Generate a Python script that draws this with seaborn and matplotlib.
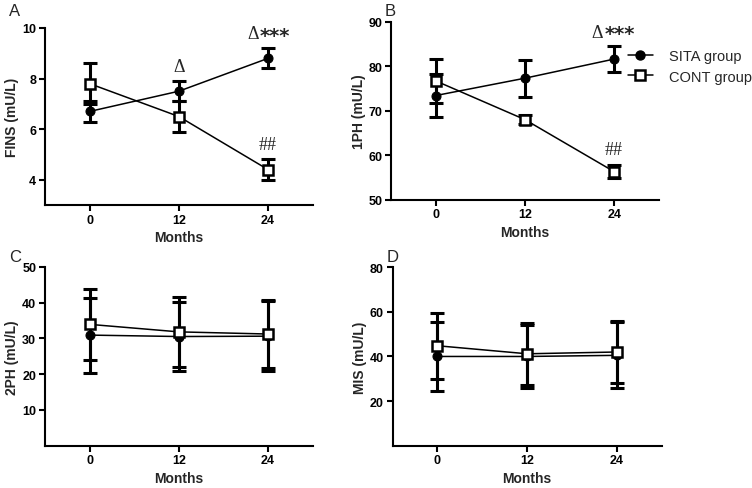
import matplotlib
matplotlib.use("Agg")
import matplotlib.pyplot as plt
import seaborn as sns
import pandas as pd
from matplotlib.lines import Line2D

months = [0, 12, 24]
groups = ["SITA group", "CONT group"]

fins_sita = [6.7, 7.5, 8.8]
fins_sita_err = [0.4, 0.4, 0.4]
fins_cont = [7.8, 6.5, 4.4]
fins_cont_err = [0.8, 0.6, 0.4]

ph1_sita = [73.4, 77.3, 81.6]
ph1_sita_err = [4.8, 4.2, 3.0]
ph1_cont = [76.7, 68.0, 56.3]
ph1_cont_err = [5.0, 1.0, 1.5]

ph2_sita = [30.9, 30.5, 30.6]
ph2_sita_err = [10.5, 9.6, 9.8]
ph2_cont = [33.9, 31.8, 31.2]
ph2_cont_err = [10.0, 9.7, 9.6]

mis_sita = [40.0, 40.0, 40.5]
mis_sita_err = [15.5, 14.0, 14.8]
mis_cont = [44.8, 41.2, 42.0]
mis_cont_err = [14.8, 13.8, 13.8]

sns.set_theme(style="ticks")
plt.rcParams['font.family'] = ['Liberation Sans', 'DejaVu Sans']

fig = plt.figure(figsize=(7.52, 4.89), dpi=100)

# axes boxes taken from the reference layout
ax_a = fig.add_axes([0.0598, 0.5787, 0.356, 0.362])
ax_b = fig.add_axes([0.520, 0.5896, 0.356, 0.364])
ax_c = fig.add_axes([0.0598, 0.0865, 0.356, 0.366])
ax_d = fig.add_axes([0.522, 0.0865, 0.358, 0.365])

panels = [
    (ax_a, "A", "FINS (mU/L)", fins_sita, fins_sita_err, fins_cont, fins_cont_err, (3, 10), [4, 6, 8, 10]),
    (ax_b, "B", "1PH (mU/L)", ph1_sita, ph1_sita_err, ph1_cont, ph1_cont_err, (50, 90), [50, 60, 70, 80, 90]),
    (ax_c, "C", "2PH (mU/L)", ph2_sita, ph2_sita_err, ph2_cont, ph2_cont_err, (0, 50), [10, 20, 30, 40, 50]),
    (ax_d, "D", "MIS (mU/L)", mis_sita, mis_sita_err, mis_cont, mis_cont_err, (0, 80), [20, 40, 60, 80]),
]

for ax, letter, ylab, s, s_err, c, c_err, ylim, yticks in panels:
    df = pd.DataFrame({"month": months * 2, "value": s + c,
                       "group": [groups[0]] * 3 + [groups[1]] * 3})
    ax.errorbar(months, s, yerr=s_err, fmt='none', ecolor='black',
                elinewidth=2.2, capsize=5, capthick=2.2, zorder=2)
    ax.errorbar(months, c, yerr=c_err, fmt='none', ecolor='black',
                elinewidth=2.2, capsize=5, capthick=2.2, zorder=2)
    sns.lineplot(data=df[df.group == groups[0]], x="month", y="value", ax=ax,
                 color='black', linewidth=1.1, marker='o', markersize=6.5,
                 markeredgecolor='black', markerfacecolor='black', zorder=3)
    sns.lineplot(data=df[df.group == groups[1]], x="month", y="value", ax=ax,
                 color='black', linewidth=1.1, marker='s', markersize=7.5,
                 markeredgecolor='black', markerfacecolor='white',
                 markeredgewidth=1.8, zorder=4)
    ax.set_xlim(-6, 30)
    ax.set_ylim(*ylim)
    ax.set_xticks(months)
    ax.set_yticks(yticks)
    ax.set_xticklabels([str(m) for m in months], fontweight='bold', fontsize=9)
    ax.set_yticklabels([str(t) for t in yticks], fontweight='bold', fontsize=9)
    ax.set_xlabel("Months", fontweight='bold', fontsize=10, labelpad=3)
    ax.set_ylabel(ylab, fontweight='bold', fontsize=10, labelpad=2)
    ax.tick_params(width=1.5, length=4.3, pad=2, color='black', labelcolor='black')
    for side in ['left', 'bottom']:
        ax.spines[side].set_linewidth(1.5)
        ax.spines[side].set_color('black')
    sns.despine(ax=ax)
    if ax.get_legend():
        ax.get_legend().remove()
    bb = ax.get_position()
    fig.text(bb.x0 - 0.048 if letter in "AC" else bb.x0 - 0.008, 1 - 12 / 489 if letter in "AB" else 1 - 257 / 489,
             letter, fontsize=12, ha='left', va='center')

# significance marks
serif = ['Liberation Serif', 'DejaVu Serif']
star = ['DejaVu Sans']
ax_a.text(12, 8.47, "Δ", family=serif, fontsize=13, ha='center', va='center')
ax_a.text(22.7, 9.8, "Δ", family=serif, fontsize=13, ha='right', va='center')
ax_a.text(22.9, 9.72, "***", family=star, fontsize=14, fontweight='bold', ha='left', va='center')
ax_a.text(24, 5.4, "##", family=serif, fontsize=13, ha='center', va='center')
ax_b.text(22.5, 87.6, "Δ", family=serif, fontsize=13, ha='right', va='center')
ax_b.text(22.7, 87.3, "***", family=star, fontsize=14, fontweight='bold', ha='left', va='center')
ax_b.text(24, 61.2, "##", family=serif, fontsize=13, ha='center', va='center')

handles = [
    Line2D([], [], color='black', linewidth=1.1, marker='o', markersize=6.5,
           markerfacecolor='black'),
    Line2D([], [], color='black', linewidth=1.1, marker='s', markersize=7.5,
           markerfacecolor='white', markeredgewidth=1.8),
]
fig.legend(handles, groups, loc='upper left', bbox_to_anchor=(628 / 752, 1 - 50 / 489),
           frameon=False, fontsize=10.5, handlelength=1.7, handletextpad=1.1,
           labelspacing=0.45, borderpad=0, borderaxespad=0)

plt.savefig("out.png", dpi=100)
plt.close()
